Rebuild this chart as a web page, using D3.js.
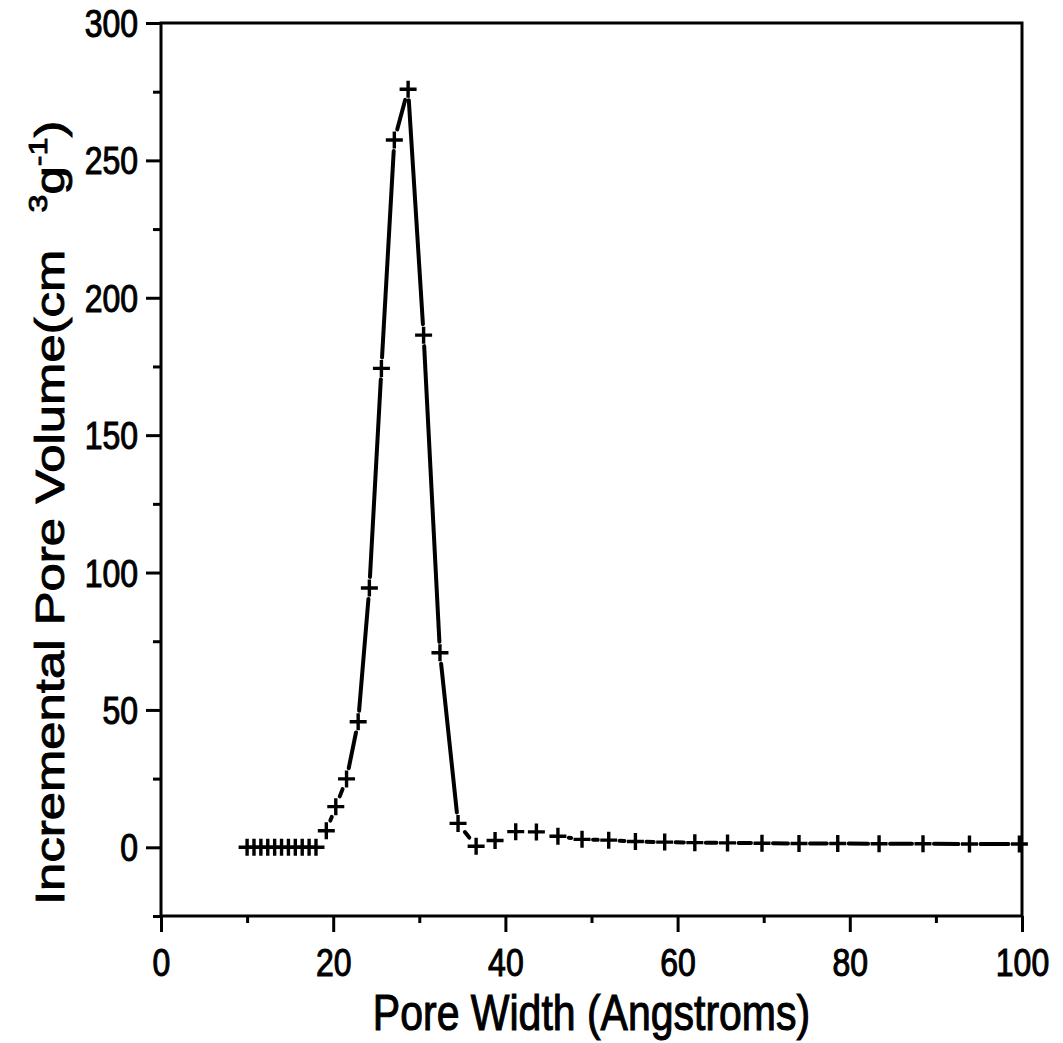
<!DOCTYPE html>
<html>
<head>
<meta charset="utf-8">
<script src="https://cdn.jsdelivr.net/npm/d3@7"></script>
<style>
  body { margin: 0; background: #fff; }
  svg { display: block; }
  text { font-family: "Liberation Sans", Arial, Helvetica, sans-serif; fill: #000; }
</style>
</head>
<body>
<div id="graph"></div>
<script>
// pore width (angstroms) and incremental pore volume
var poreWidth = [10.0, 10.8, 11.6, 12.4, 13.2, 14.0, 14.8, 15.6, 16.4, 17.2, 18.0,
  19.2, 20.3, 21.55, 22.9, 24.2, 25.6, 27.1, 28.7, 30.5, 32.4, 34.5, 36.6,
  38.8, 41.2, 43.6, 46.1, 48.9, 52.0, 55.1, 58.5, 62.0, 65.8, 69.8, 74.1,
  78.6, 83.4, 88.5, 93.9, 99.7];
var poreVolume = [0, 0, 0, 0, 0, 0, 0, 0, 0, 0, 0,
  6.0, 14.8, 24.9, 45.7, 94.4, 174.3, 257.4, 275.9, 186.4, 70.8, 8.7, 0.4,
  2.5, 5.7, 5.6, 4.0, 2.9, 2.6, 2.1, 1.9, 1.7, 1.6, 1.5, 1.4,
  1.4, 1.3, 1.3, 1.2, 1.2];

var xMajor = [0, 20, 40, 60, 80, 100];
var xMinor = [10, 30, 50, 70, 90];
var yMajor = [0, 50, 100, 150, 200, 250, 300];
var yMinor = [-25, 25, 75, 125, 175, 225, 275];

var xTitle = "Pore Width (Angstroms)";

var svgWidth = 1063, svgHeight = 1043;
var margin = {top: 23, right: 41, bottom: 127, left: 161};
var chartWidth = svgWidth - margin.left - margin.right;
var chartHeight = svgHeight - margin.top - margin.bottom;

// the scan is stretched vertically, so text is drawn taller than wide
var stretch = 1.2;

var svg = d3.select("#graph").append("svg")
  .attr("width", svgWidth)
  .attr("height", svgHeight);

var chartGroup = svg.append("g")
  .attr("transform", `translate(${margin.left}, ${margin.top})`);

var xScale = d3.scaleLinear().domain([0, 100]).range([0, chartWidth]);
var yScale = d3.scaleLinear().domain([-25, 300]).range([chartHeight, 0]);

// minor ticks first
chartGroup.append("g")
  .attr("transform", `translate(0, ${chartHeight})`)
  .call(d3.axisBottom(xScale).tickValues(xMinor).tickSize(7).tickFormat(""));
chartGroup.append("g")
  .call(d3.axisLeft(yScale).tickValues(yMinor).tickSize(8).tickFormat(""));

var xAxis = chartGroup.append("g")
  .attr("transform", `translate(0, ${chartHeight})`)
  .call(d3.axisBottom(xScale).tickValues(xMajor).tickSize(16).tickFormat(d3.format("d")));
var yAxis = chartGroup.append("g")
  .call(d3.axisLeft(yScale).tickValues(yMajor).tickSize(15).tickFormat(d3.format("d")));

chartGroup.selectAll(".domain").remove();
chartGroup.selectAll(".tick line").attr("stroke", "#000").attr("stroke-width", 3);
chartGroup.selectAll(".tick text")
  .style("font-size", "32px")
  .attr("stroke", "#000").attr("stroke-width", 0.9);

xAxis.selectAll(".tick text")
  .attr("y", null).attr("dy", null)
  .attr("transform", `translate(0, 60) scale(1, ${stretch})`);
yAxis.selectAll(".tick text")
  .attr("x", null).attr("dy", null)
  .attr("transform", `translate(-23, 13.5) scale(1, ${stretch})`);

// frame
chartGroup.append("rect")
  .attr("x", 0).attr("y", 0)
  .attr("width", chartWidth).attr("height", chartHeight)
  .attr("fill", "none").attr("stroke", "#000").attr("stroke-width", 3);

// connecting line, broken around each marker
var gap = 11;
var pts = poreWidth.map((d, i) => [xScale(d), yScale(poreVolume[i])]);
var segs = [];
for (var i = 0; i < pts.length - 1; i++) {
  var p = pts[i], q = pts[i + 1];
  var dx = q[0] - p[0], dy = q[1] - p[1];
  var len = Math.sqrt(dx * dx + dy * dy);
  if (len <= 2 * gap + 1) continue;
  var ux = dx / len, uy = dy / len;
  segs.push([p[0] + ux * gap, p[1] + uy * gap, q[0] - ux * gap, q[1] - uy * gap]);
}
chartGroup.selectAll(".seg")
  .data(segs)
  .enter()
  .append("line")
  .attr("x1", d => d[0]).attr("y1", d => d[1])
  .attr("x2", d => d[2]).attr("y2", d => d[3])
  .attr("stroke", "#000")
  .attr("stroke-width", 4)
  .attr("stroke-linecap", "round");

// plus markers
var arm = 8.5;
chartGroup.selectAll(".mark")
  .data(pts)
  .enter()
  .append("path")
  .attr("d", d => `M${d[0] - arm},${d[1]}H${d[0] + arm}M${d[0]},${d[1] - arm}V${d[1] + arm}`)
  .attr("stroke", "#000")
  .attr("stroke-width", 3.4)
  .attr("fill", "none");

// axis titles
svg.append("text")
  .attr("transform", `translate(${margin.left + chartWidth / 2}, 1030) scale(1, ${stretch})`)
  .style("text-anchor", "middle")
  .style("font-size", "41px")
  .attr("stroke", "#000").attr("stroke-width", 0.9)
  .text(xTitle);

var yTitle = svg.append("text")
  .attr("transform", `translate(64, 905) rotate(-90) scale(1.24, 1)`)
  .style("text-anchor", "start")
  .style("font-size", "41px")
  .attr("stroke", "#000").attr("stroke-width", 0.9);
yTitle.append("tspan").text("Incremental Pore Volume(cm");
yTitle.append("tspan").attr("dx", 30).attr("dy", -17).style("font-size", "26px").text("3");
yTitle.append("tspan").attr("dy", 17).text("g");
yTitle.append("tspan").attr("dy", -17).style("font-size", "26px").text("-1");
yTitle.append("tspan").attr("dy", 17).text(")");
</script>
</body>
</html>
